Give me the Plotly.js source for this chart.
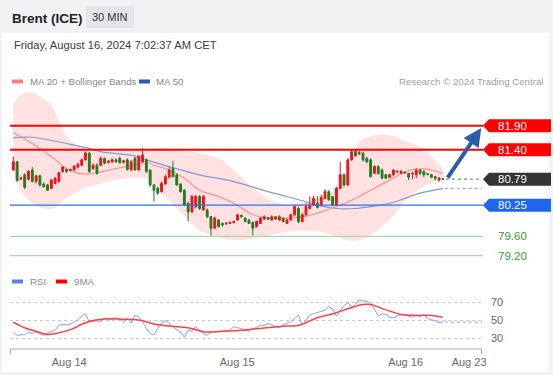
<!DOCTYPE html>
<html><head><meta charset="utf-8">
<script src="https://cdn.plot.ly/plotly-3.0.1.min.js"></script>
<style>html,body{margin:0;padding:0;background:#f1f2f4;}#chart{width:553px;height:375px;}</style>
</head><body><div id="chart"></div>
<script>
// ---------- DATA ----------
const openP  = [80.98,81.15,80.79,80.88,80.79,80.98,80.74,80.86,80.69,80.67,80.60,80.70,80.74,80.95,80.99,80.97,80.98,81.04,81.08,81.19,81.33,81.01,81.08,81.08,81.22,81.13,81.15,81.19,81.22,81.14,81.19,80.98,81.22,80.98,81.15,81.19,80.98,80.67,80.60,80.53,80.69,80.83,81.01,80.88,80.69,80.56,80.29,80.11,80.22,80.43,80.15,80.15,80.01,79.77,79.94,79.87,79.86,79.87,79.89,79.94,80.04,79.98,79.94,79.89,79.80,79.87,79.96,79.99,79.94,80.01,79.94,79.98,79.87,79.94,80.05,80.18,79.91,80.05,80.18,80.25,80.29,80.25,80.39,80.53,80.43,80.25,80.60,80.88,80.67,81.19,81.37,81.31,81.33,81.22,81.19,80.91,81.05,80.98,80.88,80.83,80.88,80.94,80.91,80.92,80.91,80.90,80.88,80.98,80.95,80.90,80.88,80.84,80.77,80.80];
const highP  = [81.26,81.17,80.84,80.91,80.98,81.04,80.88,80.88,80.72,80.69,80.79,80.83,80.95,81.06,81.01,81.01,81.08,81.13,81.22,81.36,81.36,81.12,81.12,81.26,81.24,81.19,81.22,81.22,81.26,81.19,81.22,81.19,81.26,81.29,81.43,81.22,80.99,80.69,80.63,80.74,80.88,81.04,81.17,80.91,80.70,80.58,80.32,80.46,80.46,80.46,80.46,80.18,80.02,80.01,79.96,79.89,79.90,79.91,79.93,80.07,80.05,80.00,79.96,79.91,79.93,80.00,80.04,80.01,80.04,80.02,80.04,80.00,79.98,80.07,80.25,80.22,80.08,80.29,80.43,80.44,80.44,80.46,80.58,80.56,80.44,80.63,81.15,80.91,81.22,81.40,81.40,81.38,81.35,81.26,81.22,81.08,81.08,81.01,80.90,80.90,80.99,80.98,80.98,80.95,80.92,80.94,81.01,80.99,80.97,80.92,80.90,80.86,80.83,80.81];
const lowP   = [80.97,80.74,80.77,80.58,80.76,80.72,80.70,80.63,80.62,80.55,80.58,80.68,80.72,80.92,80.92,80.95,80.97,81.01,81.06,81.17,80.92,80.98,80.88,81.06,81.10,81.12,81.13,81.13,81.12,81.12,80.97,80.97,80.97,80.97,81.13,80.92,80.63,80.32,80.46,80.51,80.67,80.81,80.83,80.65,80.51,80.23,79.91,80.09,80.18,80.15,80.14,79.98,79.60,79.75,79.79,79.80,79.84,79.86,79.87,79.93,79.99,79.89,79.86,79.62,79.79,79.86,79.94,79.94,79.93,79.94,79.93,79.89,79.86,79.93,80.02,79.87,79.89,80.02,80.16,80.23,80.18,80.23,80.37,80.34,80.23,80.23,80.58,80.63,80.65,81.17,81.26,81.29,81.15,81.12,80.83,80.90,80.88,80.79,80.79,80.81,80.86,80.92,80.90,80.90,80.77,80.79,80.81,80.87,80.83,80.87,80.81,80.76,80.74,80.77];
const closeP = [81.15,80.76,80.81,80.62,80.95,80.74,80.86,80.67,80.63,80.56,80.77,80.81,80.92,81.04,80.95,80.99,81.06,81.10,81.19,81.33,80.95,81.08,80.91,81.22,81.12,81.16,81.19,81.15,81.13,81.17,80.99,81.15,80.98,81.26,81.29,80.95,80.67,80.56,80.50,80.70,80.84,80.98,80.84,80.67,80.53,80.25,80.11,80.43,80.43,80.18,80.43,80.01,79.77,79.98,79.80,79.84,79.87,79.89,79.91,80.05,80.01,79.91,79.87,79.77,79.91,79.98,80.01,79.96,80.01,79.96,80.01,79.91,79.94,80.05,80.22,79.91,80.05,80.22,80.25,80.39,80.20,80.41,80.53,80.36,80.25,80.60,80.88,80.67,81.19,81.36,81.27,81.34,81.19,81.15,80.84,81.05,80.91,80.81,80.81,80.88,80.98,80.95,80.95,80.93,80.83,80.91,80.98,80.91,80.88,80.89,80.83,80.81,80.81,80.79];

// moving averages and Bollinger band, sampled at bar indices
const ma20Idx = [0,5,10,14,17,20,23,27,32,35,37,41,45,49,54,58,63,67,72,77,81,85,90,94,99,103,106,110,113];
const ma20Val = [81.76,81.53,81.26,81.01,80.91,80.90,80.94,81.01,81.08,81.13,81.08,80.98,80.81,80.56,80.43,80.29,80.05,79.98,79.98,80.02,80.11,80.22,80.39,80.56,80.77,80.94,81.00,80.98,80.91];
const ma50Idx = [0,5,14,20,23,32,35,41,49,58,67,72,77,81,85,90,94,99,103,107,113];
const ma50Val = [81.65,81.66,81.53,81.43,81.36,81.27,81.19,81.05,80.88,80.74,80.53,80.43,80.32,80.23,80.18,80.18,80.22,80.29,80.39,80.50,80.60];
const bandIdx   = [0,2,5,8,10,12,14,17,20,23,27,32,35,37,41,45,49,54,58,63,67,72,76,81,85,88,91,95,99,103,107,110,113];
const bandUpper = [82.35,82.55,82.58,82.45,82.33,81.98,81.68,81.47,81.37,81.36,81.36,81.40,81.42,81.43,81.42,81.38,81.33,81.22,80.98,80.62,80.38,80.26,80.30,80.42,80.58,81.00,81.55,81.70,81.70,81.58,81.45,81.25,81.00];
const bandLower = [81.00,80.55,80.30,80.18,80.17,80.27,80.40,80.54,80.63,80.70,80.77,80.82,80.80,80.65,80.36,80.02,79.73,79.58,79.52,79.55,79.62,79.70,79.72,79.70,79.60,79.52,79.52,79.68,79.95,80.33,80.60,80.72,80.80];

// RSI (one per bar) and its 9-period MA (sampled)
const rsiVal = [36.7,32.8,33.6,33.6,36.7,34.8,36.7,34.5,33.0,35.5,37.5,38.7,44.0,45.3,44.5,45.5,47.7,50.4,54.3,57.0,47.7,48.4,49.2,47.7,52.3,50.4,51.6,52.3,51.6,47.7,51.6,46.5,55.5,53.1,48.4,40.6,34.8,33.6,40.6,46.5,49.2,46.5,42.6,39.0,36.7,30.9,38.7,37.5,42.6,38.7,34.8,32.8,37.5,36.7,37.0,37.5,37.5,38.7,42.6,41.4,40.5,38.7,37.5,40.6,41.4,44.5,43.8,46.1,44.5,42.5,41.4,44.5,46.5,48.0,51.6,55.5,44.5,50.4,55.5,57.0,58.2,59.5,60.9,64.8,62.1,54.3,60.1,66.0,69.9,64.0,67.2,72.6,71.1,71.1,68.0,62.1,54.3,57.0,56.2,53.1,52.3,54.3,56.2,55.5,54.3,53.1,55.5,53.9,55.5,51.6,50.4,49.2,47.0,47.7];
const rsiMaIdx = [0,3,6.6,8.8,11,15.4,18,20.6,24,28.5,33,37.3,41.7,46,50.4,54.8,59.2,63.2,66.6,71,75.4,79.8,84.2,88.6,92,94,97.5,102,106,110,113];
const rsiMaVal = [47.7,41.4,36.7,34.0,34.8,39.9,45.3,49.2,51.2,50.8,50.0,45.3,43.0,41.4,36.7,37.5,38.3,39.9,41.4,43.0,44.5,52.3,57.0,63.3,67.2,67.2,62.1,56.2,55.1,55.1,53.1];

// key levels and labels
const levelValues = [81.90, 81.40, 80.25, 79.60, 79.20];
const levelLabels = ['81.90','81.40','80.25','79.60','79.20'];
const dayIdx    = [14.7, 58.9, 103.2, 119.9];
const dayLabels = ['Aug 14','Aug 15','Aug 16','Aug 23'];
const rsiTicks  = [30, 50, 70];

// ---------- LAYOUT HELPERS ----------
const W = 553, H = 375;
const px = v => v / W, py = v => 1 - v / H;
const FONT = 'Arial, "Liberation Sans", sans-serif';
const xRange = [-0.87, 123.3];
const yRange = [79.007, 82.641];
const pxPerPrice = 175 / (yRange[1] - yRange[0]);
const barIdx = closeP.map((_, i) => i);
const last = closeP.length - 1;
const lastClose = closeP[last];

const traces = [
  {x: bandIdx, y: bandLower, type:'scatter', mode:'lines', line:{width:0, shape:'spline'}, xaxis:'x', yaxis:'y', hoverinfo:'skip'},
  {x: bandIdx, y: bandUpper, type:'scatter', mode:'lines', line:{width:0, shape:'spline'}, fill:'tonexty', fillcolor:'#ffe1e1', xaxis:'x', yaxis:'y', hoverinfo:'skip'},
  {x: ma50Idx, y: ma50Val, type:'scatter', mode:'lines', line:{color:'#7f9bd0', width:1.2, shape:'spline'}, xaxis:'x', yaxis:'y'},
  {x: ma20Idx, y: ma20Val, type:'scatter', mode:'lines', line:{color:'#ff8c8c', width:1.1, shape:'spline'}, xaxis:'x', yaxis:'y'},
  {x: barIdx, open: openP, high: highP, low: lowP, close: closeP, type:'candlestick', xaxis:'x', yaxis:'y3',
   increasing:{line:{color:'#e8141c', width:1}, fillcolor:'#e8141c'},
   decreasing:{line:{color:'#1f7d1f', width:1}, fillcolor:'#1f7d1f'}, whiskerwidth:0, hoverinfo:'skip'},
  {x: barIdx, y: rsiVal, type:'scatter', mode:'lines', line:{color:'#86a0ea', width:1}, xaxis:'x', yaxis:'y2'},
  {x: rsiMaIdx, y: rsiMaVal, type:'scatter', mode:'lines', line:{color:'#ff4040', width:1.5, shape:'spline'}, xaxis:'x', yaxis:'y2'}
];

const shapes = [
  {type:'rect', xref:'paper', yref:'paper', x0:px(2), x1:px(549), y0:py(372), y1:py(33), fillcolor:'#ffffff', line:{width:0}, layer:'below'},
  {type:'rect', xref:'paper', yref:'paper', x0:px(86), x1:px(134), y0:py(28), y1:py(6), fillcolor:'#e3e5e8', line:{width:0}, layer:'below'},
  // legend swatches
  {type:'rect', xref:'paper', yref:'paper', x0:px(12), x1:px(23), y0:py(83.5), y1:py(79.5), fillcolor:'#ff7b7b', line:{width:0}},
  {type:'rect', xref:'paper', yref:'paper', x0:px(139), x1:px(150), y0:py(83.5), y1:py(79.5), fillcolor:'#2d5ca6', line:{width:0}},
  {type:'rect', xref:'paper', yref:'paper', x0:px(12), x1:px(23), y0:py(283.5), y1:py(279.5), fillcolor:'#5b82e0', line:{width:0}},
  {type:'rect', xref:'paper', yref:'paper', x0:px(56), x1:px(67), y0:py(283.5), y1:py(279.5), fillcolor:'#ff0000', line:{width:0}},
  // bottom axis line with end ticks
  {type:'line', xref:'paper', yref:'paper', x0:px(10), x1:px(482), y0:py(349), y1:py(349), line:{color:'#aaaaaa', width:1}},
  {type:'line', xref:'paper', yref:'paper', x0:px(10.5), x1:px(10.5), y0:py(349), y1:py(354), line:{color:'#aaaaaa', width:1}},
  {type:'line', xref:'paper', yref:'paper', x0:px(481.5), x1:px(481.5), y0:py(349), y1:py(354), line:{color:'#aaaaaa', width:1}},
  // projections from last bar
  {type:'line', xref:'x', yref:'y', x0:last+0.8, x1:xRange[1]+0.3, y0:lastClose, y1:lastClose, line:{color:'#666666', width:1, dash:'dot'}},
  {type:'line', xref:'x', yref:'y', x0:last+0.5, x1:xRange[1]+0.3, y0:ma50Val[ma50Val.length-1], y1:ma50Val[ma50Val.length-1], line:{color:'#7f9bd0', width:1, dash:'dot'}},
  {type:'line', xref:'x', yref:'y2', x0:last+0.5, x1:xRange[1], y0:rsiVal[last], y1:rsiVal[last], line:{color:'#86a0ea', width:1, dash:'dot'}}
];

const lineStyles = [
  {color:'#ff0000', width:2}, {color:'#ff0000', width:2}, {color:'#2f6fe8', width:1.3},
  {color:'#a8d8a8', width:1.3}, {color:'#a8d8a8', width:1.3}
];
const boxColors = ['#ff0000', '#ff0000', '#1e66f0', null, null];
const annotations = [];
const hb = 6.5 / pxPerPrice;
levelValues.forEach((v, k) => {
  shapes.push({type:'line', xref:'paper', yref:'y', x0:px(10), x1:px(483), y0:v, y1:v, line:lineStyles[k]});
  if (boxColors[k]) {
    shapes.push({type:'path', xref:'paper', yref:'y', fillcolor:boxColors[k], line:{width:0},
      path:`M ${px(483)},${v} L ${px(489)},${v+hb} L ${px(551)},${v+hb} L ${px(551)},${v-hb} L ${px(489)},${v-hb} Z`});
    annotations.push({xref:'paper', yref:'y', x:px(496), y:v, xanchor:'left', yanchor:'middle', showarrow:false,
      text:levelLabels[k], font:{family:FONT, size:11.5, color:'#ffffff'}});
  } else {
    annotations.push({xref:'paper', yref:'y', x:px(496), y:v, xanchor:'left', yanchor:'middle', showarrow:false,
      text:levelLabels[k], font:{family:FONT, size:11.5, color:'#3b9a3b'}});
  }
});
// last price box
shapes.push({type:'path', xref:'paper', yref:'y', fillcolor:'#333333', line:{width:0},
  path:`M ${px(483)},${lastClose} L ${px(489)},${lastClose+hb} L ${px(551)},${lastClose+hb} L ${px(551)},${lastClose-hb} L ${px(489)},${lastClose-hb} Z`});
annotations.push({xref:'paper', yref:'y', x:px(496), y:lastClose, xanchor:'left', yanchor:'middle', showarrow:false,
  text:lastClose.toFixed(2), font:{family:FONT, size:11.5, color:'#ffffff'}});

// arrow from last close to first target
annotations.push({xref:'x', yref:'y', axref:'x', ayref:'y', x:xRange[1]-0.2, y:levelValues[0]-0.05,
  ax:last+1, ay:lastClose, text:'', showarrow:true, arrowhead:2, arrowsize:0.9, arrowwidth:4, arrowcolor:'#2b5ca8', standoff:0, startstandoff:0});

const txt = (x, y, t, size, color, anchor) => ({xref:'paper', yref:'paper', x:px(x), y:py(y), text:t, showarrow:false,
  xanchor:anchor||'left', yanchor:'middle', font:{family:FONT, size:size, color:color}});
annotations.push(
  txt(10, 18, '<b>Brent (ICE)</b>', 13.5, '#222222'),
  txt(110, 17.5, '30 MIN', 11, '#333333', 'center'),
  txt(12, 45, 'Friday, August 16, 2024 7:02:37 AM CET', 11.2, '#3a3a3a'),
  txt(28, 81.5, 'MA 20 + Bollinger Bands', 9.7, '#888888'),
  txt(154, 81.5, 'MA 50', 9.7, '#888888'),
  txt(545, 81.5, 'Research © 2024 Trading Central', 9.7, '#a0a0a0', 'right'),
  txt(28, 281.5, 'RSI', 9.7, '#888888'),
  txt(72, 281.5, '9MA', 9.7, '#888888')
);

const layout = {
  width: W, height: H, margin:{l:0, r:0, t:0, b:0},
  paper_bgcolor:'#f1f2f4', plot_bgcolor:'rgba(0,0,0,0)', showlegend:false,
  font:{family:FONT},
  xaxis:{domain:[px(10), px(482)], range:xRange, anchor:'y2', showgrid:false, zeroline:false, showline:false,
    ticks:'', tickvals:dayIdx, ticktext:dayLabels, tickfont:{size:11, color:'#666666'}, ticklabelstandoff:5,
    rangeslider:{visible:false}, fixedrange:true},
  yaxis:{domain:[py(265), py(90)], range:yRange, visible:false, fixedrange:true},
  yaxis3:{domain:[py(265), py(90)], range:yRange, overlaying:'y', visible:false, fixedrange:true},
  yaxis2:{domain:[py(349), py(288)], range:[17.78, 85.56], anchor:'x', side:'right', tickvals:rsiTicks,
    showgrid:true, griddash:'dot', gridcolor:'#c8c8c8', gridwidth:1, zeroline:false, showline:false, ticks:'',
    tickfont:{size:11, color:'#666666'}, ticklabelstandoff:8, fixedrange:true},
  shapes: shapes, annotations: annotations
};
Plotly.newPlot('chart', traces, layout, {staticPlot:true, displayModeBar:false});
</script>
</body></html>
